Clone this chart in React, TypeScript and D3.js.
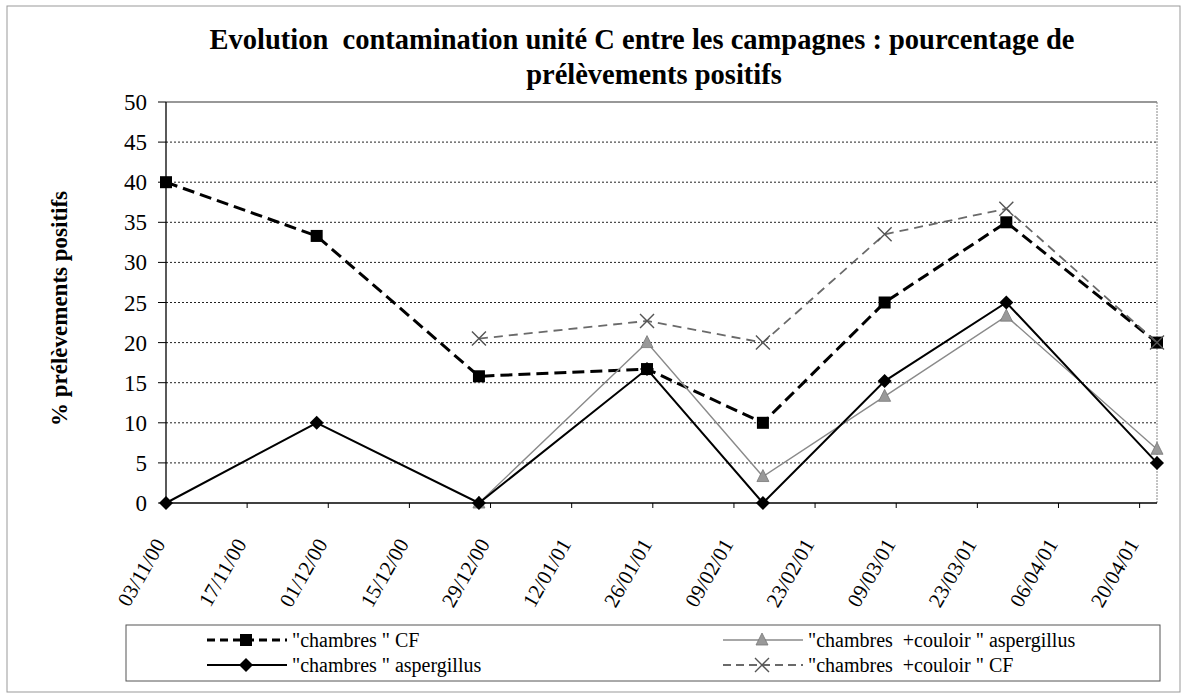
import React from 'react';
import * as d3 from 'd3';

// campaign dates (dd/mm/yy) and % of positive samples per series
const sampleDates = ['03/11/00', '29/11/00', '27/12/00', '25/01/01', '14/02/01', '07/03/01', '28/03/01', '23/04/01'];
const chambresCF = [40, 33.3, 15.8, 16.7, 10, 25, 35, 20];
const chambresAsp = [0, 10, 0, 16.7, 0, 15.2, 25, 5];
const couloirAsp = [null, null, 0, 20, 3.3, 13.3, 23.3, 6.7];
const couloirCF = [null, null, 20.5, 22.7, 20, 33.5, 36.7, 20];

const xTickLabels = [
  '03/11/00', '17/11/00', '01/12/00', '15/12/00', '29/12/00', '12/01/01', '26/01/01',
  '09/02/01', '23/02/01', '09/03/01', '23/03/01', '06/04/01', '20/04/01',
];
const yTicks = [0, 5, 10, 15, 20, 25, 30, 35, 40, 45, 50];

const W = 1187;
const H = 696;
const plot = { left: 166, right: 1157, top: 102, bottom: 503 };
const FONT = '"Liberation Serif", "Times New Roman", "DejaVu Serif", serif';

const parse = d3.utcParse('%d/%m/%y');

type Pt = { d: Date; v: number | null };

const series = [
  { name: '"chambres " CF', values: chambresCF, color: '#000', width: 3, dash: '12,6', marker: 'square' },
  { name: '"chambres  +couloir " aspergillus', values: couloirAsp, color: '#8a8a8a', width: 1.4, dash: '', marker: 'triangle' },
  { name: '"chambres " aspergillus', values: chambresAsp, color: '#000', width: 2, dash: '', marker: 'diamond' },
  { name: '"chambres  +couloir " CF', values: couloirCF, color: '#6a6a6a', width: 1.8, dash: '9,6', marker: 'cross' },
];

const Marker: React.FC<{ type: string; x: number; y: number }> = ({ type, x, y }) => {
  if (type === 'square') return <rect x={x - 6} y={y - 6} width={12} height={12} fill="#000" />;
  if (type === 'diamond')
    return <path d={`M${x},${y - 7}L${x + 7},${y}L${x},${y + 7}L${x - 7},${y}Z`} fill="#000" />;
  if (type === 'triangle')
    return <path d={`M${x},${y - 7}L${x + 6},${y + 5}L${x - 6},${y + 5}Z`} fill="#999" stroke="#777" strokeWidth={0.8} />;
  return (
    <path d={`M${x - 7},${y - 7}L${x + 7},${y + 7}M${x - 7},${y + 7}L${x + 7},${y - 7}`} stroke="#555" strokeWidth={1.4} fill="none" />
  );
};

const App: React.FC = () => {
  const x = d3
    .scaleUtc()
    .domain([parse(sampleDates[0]) as Date, parse(sampleDates[sampleDates.length - 1]) as Date])
    .range([plot.left, plot.right]);
  const y = d3.scaleLinear().domain([0, 50]).range([plot.bottom, plot.top]);

  const line = d3
    .line<Pt>()
    .defined((p) => p.v !== null)
    .x((p) => x(p.d))
    .y((p) => y(p.v as number));

  const pts = (vals: (number | null)[]): Pt[] =>
    vals.map((v, i) => ({ d: parse(sampleDates[i]) as Date, v }));

  const titleCx = 642;

  return (
    <svg width={W} height={H} style={{ position: 'absolute', left: 0, top: 0, background: '#fff', fontFamily: FONT }}>
      <rect x={7} y={6} width={1173} height={686} fill="none" stroke="#999" strokeWidth={1} />

      <text x={titleCx} y={49} textAnchor="middle" fontFamily={FONT} fontSize={28.5} fontWeight="bold" style={{ whiteSpace: 'pre' }}>
        {'Evolution  contamination unité C entre les campagnes : pourcentage de'}
      </text>
      <text x={titleCx + 12} y={84} textAnchor="middle" fontFamily={FONT} fontSize={28.5} fontWeight="bold">
        prélèvements positifs
      </text>

      {/* grid */}
      {yTicks.filter((t) => t > 0 && t < 50).map((t) => (
        <line key={t} x1={plot.left} x2={plot.right} y1={y(t)} y2={y(t)} stroke="#222" strokeWidth={1} strokeDasharray="2,2" />
      ))}
      <line x1={plot.left} x2={plot.right} y1={plot.top} y2={plot.top} stroke="#333" strokeWidth={1.2} />
      <line x1={plot.right} x2={plot.right} y1={plot.top} y2={plot.bottom} stroke="#888" strokeWidth={1} strokeDasharray="2,1" />

      {/* y axis */}
      <line x1={plot.left} x2={plot.left} y1={plot.top} y2={plot.bottom} stroke="#000" strokeWidth={1.3} />
      {yTicks.map((t) => (
        <g key={t}>
          <line x1={plot.left - 8} x2={plot.left} y1={y(t)} y2={y(t)} stroke="#000" />
          <text x={147} y={y(t)} dy="0.35em" textAnchor="end" fontFamily={FONT} fontSize={23}>
            {t}
          </text>
        </g>
      ))}
      <text transform={`translate(67,${(plot.top + plot.bottom) / 2 + 6}) rotate(-90)`} textAnchor="middle" fontFamily={FONT} fontSize={23} fontWeight="bold">
        % prélèvements positifs
      </text>

      {/* x axis */}
      <line x1={plot.left} x2={plot.right} y1={plot.bottom} y2={plot.bottom} stroke="#000" strokeWidth={1.3} />
      {xTickLabels.map((lab) => {
        const tx = x(parse(lab) as Date);
        return (
          <g key={lab}>
            <line x1={tx} x2={tx} y1={plot.bottom} y2={plot.bottom + 5} stroke="#000" />
            <text transform={`translate(${tx},${544}) rotate(-60)`} textAnchor="end" fontFamily={FONT} fontSize={21}>
              {lab}
            </text>
          </g>
        );
      })}

      {/* series */}
      {series.map((s) => (
        <g key={s.name}>
          <path
            d={line(pts(s.values)) || ''}
            fill="none"
            stroke={s.color}
            strokeWidth={s.width}
            strokeDasharray={s.dash || undefined}
          />
          {pts(s.values)
            .filter((p) => p.v !== null)
            .map((p, i) => (
              <Marker key={i} type={s.marker} x={x(p.d)} y={y(p.v as number)} />
            ))}
        </g>
      ))}

      {/* legend */}
      <rect x={126} y={625} width={1034} height={56} fill="#fff" stroke="#555" strokeWidth={1} />
      {series.map((s, i) => {
        const col = i % 2;
        const row = Math.floor(i / 2);
        const x0 = col === 0 ? 207 : 723;
        const ly = 640 + row * 25;
        return (
          <g key={s.name}>
            <line x1={x0} x2={x0 + 80} y1={ly} y2={ly} stroke={s.color} strokeWidth={s.width} strokeDasharray={s.dash ? '8,5' : undefined} />
            <Marker type={s.marker} x={x0 + 39} y={ly} />
            <text x={x0 + 85} y={ly} dy="0.35em" fontFamily={FONT} fontSize={20} style={{ whiteSpace: 'pre' }}>
              {s.name}
            </text>
          </g>
        );
      })}
    </svg>
  );
};

export default App;
